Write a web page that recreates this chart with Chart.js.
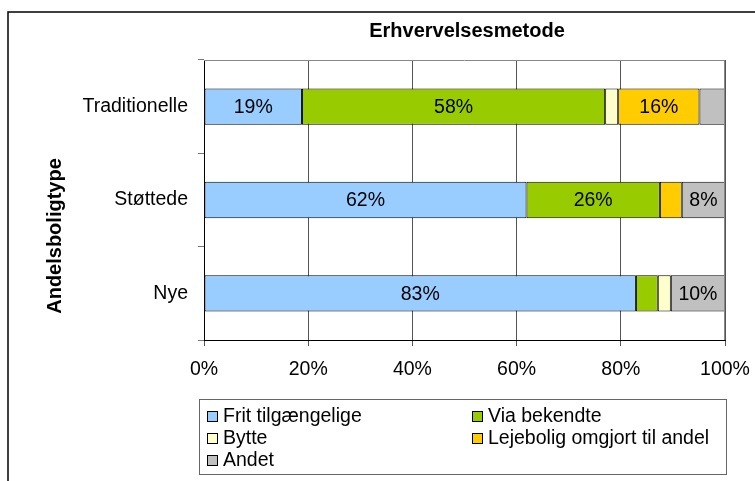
<!DOCTYPE html>
<html>
<head>
<meta charset="utf-8">
<script src="https://cdn.jsdelivr.net/npm/chart.js@4/dist/chart.umd.min.js"></script>
<style>
  html, body { margin: 0; padding: 0; background: #fff; }
  #wrap { position: relative; width: 755px; height: 481px; }
  #legend {
    position: absolute; left: 199px; top: 399px; width: 528px; height: 76px;
    border: 1px solid #666; box-sizing: border-box;
    font-family: 'Liberation Sans', Arial, sans-serif; font-size: 19.5px; color: #000;
  }
  #legend .item { position: absolute; white-space: nowrap; line-height: 22px; }
  #legend .box {
    display: inline-block; width: 9px; height: 9px; border: 1px solid #000;
    margin-right: 5px; vertical-align: 0px;
  }
</style>
</head>
<body>
<div id="wrap">
  <canvas id="chart" width="755" height="481"></canvas>
  <div id="legend"></div>
</div>
<script>
const categories = ['Traditionelle', 'Støttede', 'Nye'];
const seriesNames = ['Frit tilgængelige', 'Via bekendte', 'Bytte', 'Lejebolig omgjort til andel', 'Andet'];
const fritValues = [18.8, 61.9, 82.9];
const bekendteValues = [58.2, 25.6, 4.2];
const bytteValues = [2.5, 0, 2.5];
const lejeboligValues = [15.6, 4.2, 0];
const andetValues = [4.9, 8.3, 10.4];
const xTicks = [0, 20, 40, 60, 80, 100];
const colors = ['#99CCFF', '#99CC00', '#FFFFCC', '#FFCC00', '#C0C0C0'];

const FONT = "'Liberation Sans', Arial, sans-serif";
const SIZE = 19.5;
const allValues = [fritValues, bekendteValues, bytteValues, lejeboligValues, andetValues];

const datasets = seriesNames.map((name, i) => ({
  label: name,
  data: allValues[i],
  backgroundColor: colors[i],
  borderColor: '#000',
  borderWidth: (c) => (c.raw ? 1 : 0),
  borderSkipped: false,
  categoryPercentage: 1,
  barPercentage: 0.39
}));

// frame, titles, plot top border and the bar labels
const decor = {
  id: 'decor',
  beforeDraw(chart) {
    const ctx = chart.ctx;
    ctx.save();
    ctx.strokeStyle = '#000';
    ctx.lineWidth = 1.5;
    ctx.beginPath();
    ctx.moveTo(8, 481);
    ctx.lineTo(8, 12);
    ctx.lineTo(755, 12);
    ctx.stroke();
    ctx.fillStyle = '#000';
    ctx.textAlign = 'center';
    ctx.textBaseline = 'middle';
    ctx.font = 'bold 20px ' + FONT;
    ctx.fillText('Erhvervelsesmetode', 467, 31);
    // y axis title, sits a bit below the middle like the original
    ctx.translate(55, 236);
    ctx.rotate(-Math.PI / 2);
    ctx.fillText('Andelsboligtype', 0, 0);
    ctx.restore();
  },
  afterDraw(chart) {
    const ctx = chart.ctx;
    const a = chart.chartArea;
    ctx.save();
    ctx.strokeStyle = '#888';
    ctx.lineWidth = 1;
    ctx.beginPath();
    ctx.moveTo(a.left, a.top + 0.5);
    ctx.lineTo(a.right, a.top + 0.5);
    ctx.moveTo(a.right - 0.5, a.top);
    ctx.lineTo(a.right - 0.5, a.bottom);
    ctx.stroke();
    ctx.restore();
  },
  afterDatasetsDraw(chart) {
    const ctx = chart.ctx;
    ctx.save();
    ctx.fillStyle = '#000';
    ctx.font = SIZE + 'px ' + FONT;
    ctx.textAlign = 'center';
    ctx.textBaseline = 'middle';
    chart.data.datasets.forEach((ds, i) => {
      chart.getDatasetMeta(i).data.forEach((el, j) => {
        const v = ds.data[j];
        if (v < 7) return;
        const p = el.getCenterPoint();
        ctx.fillText(Math.round(v) + '%', p.x, p.y + 1);
      });
    });
    ctx.restore();
  }
};

const chart = new Chart(document.getElementById('chart'), {
  type: 'bar',
  data: { labels: categories, datasets: datasets },
  options: {
    indexAxis: 'y',
    responsive: false,
    animation: false,
    layout: { padding: { top: 60, right: 30, bottom: 97, left: 40 } },
    plugins: {
      legend: { display: false },
      tooltip: { enabled: false }
    },
    scales: {
      x: {
        stacked: true,
        min: 0,
        max: 100,
        afterBuildTicks: (s) => { s.ticks = xTicks.map(v => ({ value: v })); },
        afterFit: (s) => { s.height = 44; s.paddingLeft = 0; s.paddingRight = 0; },
        ticks: {
          color: '#000',
          padding: 12,
          maxRotation: 0,
          font: { family: FONT, size: SIZE },
          callback: (v) => v + '%'
        },
        grid: { color: '#555', lineWidth: 1, tickLength: 6 },
        border: { color: '#000', width: 1 }
      },
      y: {
        stacked: true,
        afterFit: (s) => { s.width = 164; },
        ticks: {
          color: '#000',
          padding: 10,
          font: { family: FONT, size: SIZE }
        },
        grid: { drawOnChartArea: false, color: '#777', tickLength: 6 },
        border: { color: '#000', width: 1 }
      }
    }
  },
  plugins: [decor]
});

// legend in two columns, built from the datasets
const legend = document.getElementById('legend');
const legendPos = [[7, 4], [272, 4], [7, 26], [272, 26], [7, 48]];
chart.data.datasets.forEach((ds, i) => {
  const item = document.createElement('div');
  item.className = 'item';
  item.style.left = legendPos[i][0] + 'px';
  item.style.top = legendPos[i][1] + 'px';
  item.innerHTML = '<span class="box" style="background:' + ds.backgroundColor + '"></span>' + ds.label;
  legend.appendChild(item);
});
</script>
</body>
</html>
